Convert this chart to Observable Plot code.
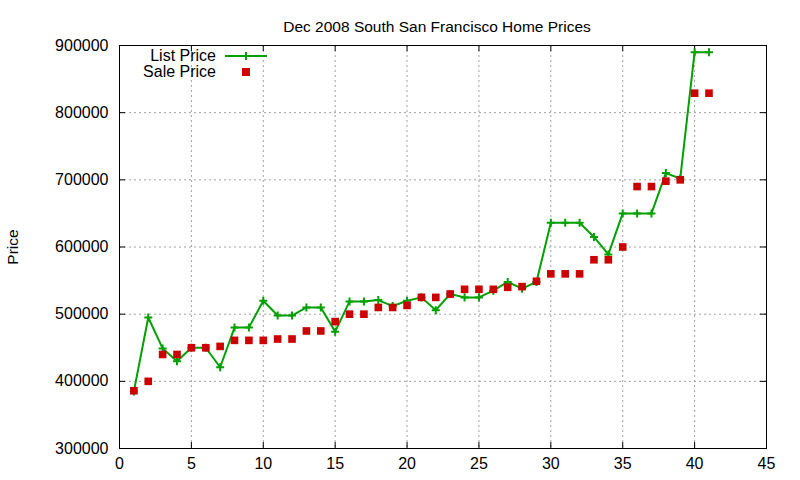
<!DOCTYPE html>
<html><head><meta charset="utf-8">
<script src="https://cdn.jsdelivr.net/npm/d3@7"></script>
<script src="https://cdn.jsdelivr.net/npm/@observablehq/plot@0.6"></script>
<style>body{margin:0;background:#fff}</style>
</head><body><div id="chart"></div>
<script>
const houseIndex = [1,2,3,4,5,6,7,8,9,10,11,12,13,14,15,16,17,18,19,20,21,22,23,24,25,26,27,28,29,30,31,32,33,34,35,36,37,38,39,40,41];
const listPrice = [385000,495000,449000,430000,450000,450000,421000,480000,480000,520000,498000,498000,510000,510000,474000,519000,519000,521000,512000,520000,525000,506000,530000,525000,525000,535000,548000,538000,548000,636000,636000,636000,615000,589000,650000,650000,650000,710000,702000,890000,890000];
const salePrice = [386000,400000,440000,440000,450000,450000,452000,461000,461000,461000,463000,463000,475000,475000,489000,500000,500000,510000,510000,513000,525000,525000,530000,537000,537000,537000,540000,541000,549000,560000,560000,560000,581000,581000,600000,690000,690000,698000,700000,829000,829000];
const xTicks = [0,5,10,15,20,25,30,35,40,45];
const yTicks = [300000,400000,500000,600000,700000,800000,900000];
const title = "Dec 2008 South San Francisco Home Prices";
const yLabel = "Price";
const seriesNames = ["List Price","Sale Price"];

const data = houseIndex.map((x,i)=>({x, list:listPrice[i], sale:salePrice[i]}));
const W=800,H=480,mL=119,mR=34,mT=45,mB=32;
const pw=W-mL-mR, ph=H-mT-mB;
const green="#00a000", red="#cc0000";
const font="'Liberation Sans', Arial, sans-serif";

const chart = Plot.plot({
  width:W, height:H, marginLeft:mL, marginRight:mR, marginTop:mT, marginBottom:mB,
  style:{fontFamily:font, fontSize:"16px", background:"#fff", overflow:"visible", color:"black"},
  x:{domain:[0,45]},
  y:{domain:[300000,900000]},
  marks:[
    Plot.gridX(xTicks,{stroke:"#a0a0a0",strokeOpacity:1,strokeDasharray:"2,3"}),
    Plot.gridY(yTicks,{stroke:"#a0a0a0",strokeOpacity:1,strokeDasharray:"2,3"}),
    Plot.frame({stroke:"black"}),
    Plot.tickX(xTicks,{x:d=>d, insetTop:ph-6, stroke:"black"}),
    Plot.tickX(xTicks,{x:d=>d, insetBottom:ph-6, stroke:"black"}),
    Plot.tickY(yTicks,{y:d=>d, insetRight:pw-6, stroke:"black"}),
    Plot.tickY(yTicks,{y:d=>d, insetLeft:pw-6, stroke:"black"}),
    Plot.axisX(xTicks,{tickSize:0, tickPadding:9, label:null, fontSize:16}),
    Plot.axisY(yTicks,{tickSize:0, tickPadding:11, label:null, fontSize:16, tickFormat:d3.format("d")}),
    Plot.line(data,{x:"x", y:"list", stroke:green, strokeWidth:2}),
    Plot.dot(data,{x:"x", y:"list", symbol:"plus", r:2.7, stroke:green, strokeWidth:2}),
    Plot.dot(data,{x:"x", y:"sale", symbol:"square", r:4.3, fill:red, stroke:null}),
    Plot.text([title],{frameAnchor:"top", dx:-6, dy:-25, fontSize:15.5}),
    Plot.text([yLabel],{frameAnchor:"left", textAnchor:"middle", rotate:-90, dx:-106.5, dy:0, fontSize:15.5})
  ]
});

const svg = d3.select(chart);
const lg = svg.append("g").attr("font-family", font).attr("font-size", 16);
lg.append("text").attr("x",216).attr("y",60.5).attr("text-anchor","end").text(seriesNames[0]);
lg.append("line").attr("x1",225).attr("x2",267).attr("y1",56).attr("y2",56).attr("stroke",green).attr("stroke-width",2);
lg.append("path").attr("d","M242,56h8M246,52v8").attr("stroke",green).attr("stroke-width",2);
lg.append("text").attr("x",216).attr("y",76.5).attr("text-anchor","end").text(seriesNames[1]);
lg.append("rect").attr("x",242).attr("y",68).attr("width",8).attr("height",8).attr("fill",red);

document.getElementById("chart").appendChild(chart);
</script>
</body></html>
